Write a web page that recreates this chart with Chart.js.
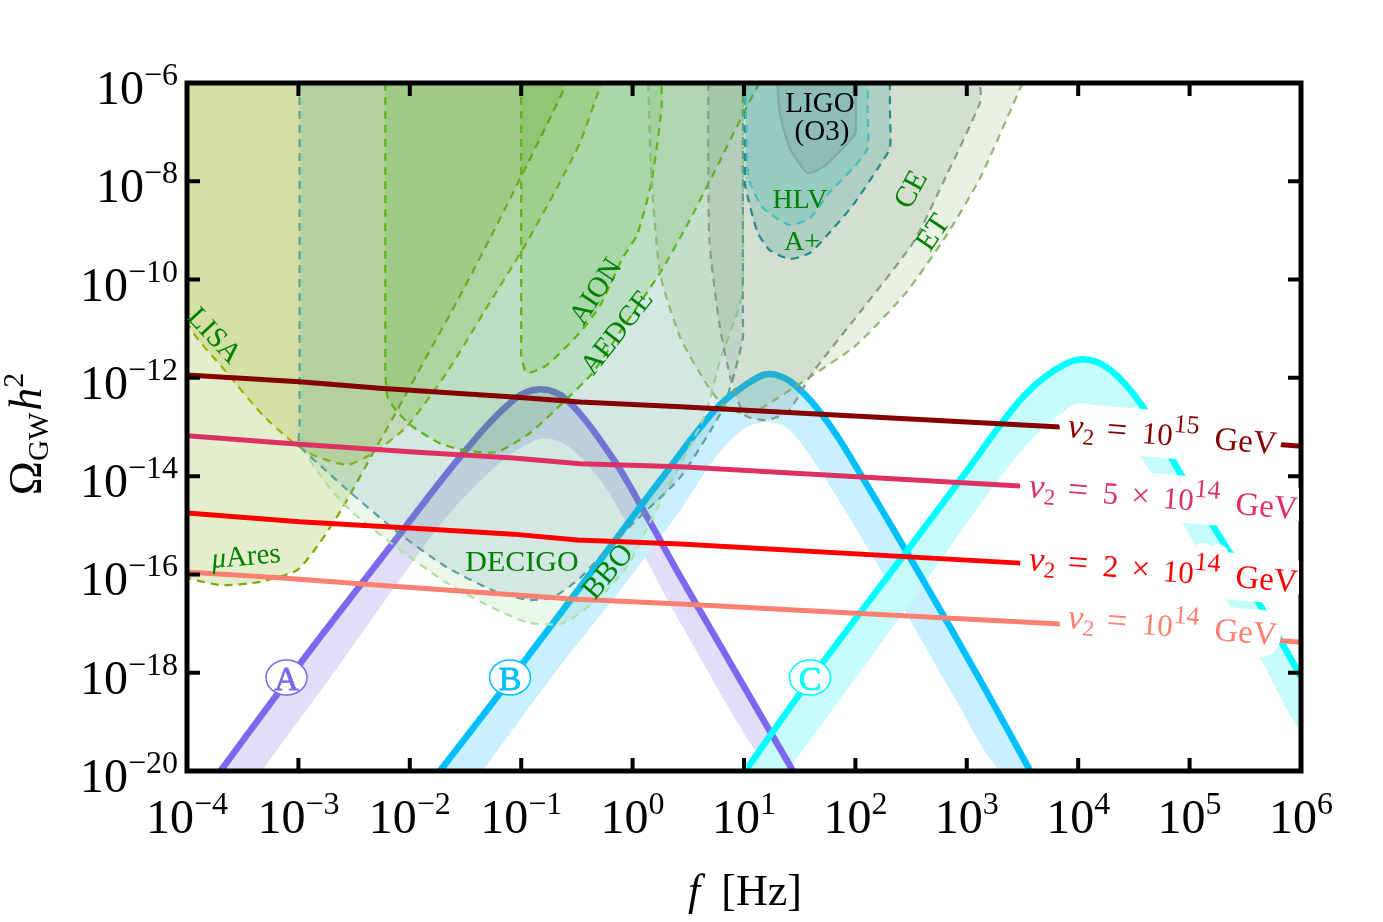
<!DOCTYPE html>
<html lang="en">

<head>
    <meta charset="UTF-8">
    <title>Gravitational wave spectra</title>
    <script src="https://cdn.jsdelivr.net/npm/chart.js"></script>
    <style>
        html, body { margin: 0; padding: 0; background: #fff; }
        canvas { display: block; }
    </style>
</head>

<body>
    <canvas id="gwChart" width="1383" height="922"></canvas>

    <script>
        // all values are log10(f / Hz) and log10(Omega h^2)
        const xTickExp = [-4, -3, -2, -1, 0, 1, 2, 3, 4, 5, 6];
        const yTickExp = [-6, -8, -10, -12, -14, -16, -18, -20];

        const aTopF = [-3.70, -2.96, -2.15, -1.52, -1.07, -0.83, -0.59, -0.18, 0.13, 0.43, 1.44];
        const aTopO = [-20, -17.74, -15.36, -13.53, -12.45, -12.23, -12.45, -13.63, -14.83, -16.05, -20];
        const aLowF = [-3.33, -2.60, -2.09, -1.67, -1.19, -0.83, -0.59, -0.29, -0.02, 0.43, 1.23];
        const aLowO = [-20, -17.74, -16.11, -14.83, -13.73, -13.24, -13.37, -14.08, -15.10, -16.99, -20];

        const bTopF = [-1.73, -1.10, -0.29, 0.25, 0.74, 1.01, 1.23, 1.46, 1.77, 2.13, 2.58, 3.12, 3.57];
        const bTopO = [-20, -18.15, -15.71, -14.08, -12.65, -12.15, -11.92, -12.15, -12.96, -14.28, -16.01, -18.15, -20];
        const bLowF = [-1.35, -0.61, -0.11, 0.43, 0.74, 1.01, 1.23, 1.41, 1.68, 2.04, 2.49, 2.85, 3.30];
        const bLowO = [-20, -17.74, -16.32, -14.69, -13.63, -13.02, -12.90, -13.06, -13.88, -15.20, -16.93, -18.35, -20];

        const cTopF = [1.01, 1.59, 2.40, 2.94, 3.48, 3.79, 4.04, 4.29, 4.58, 4.91, 5.36, 5.61, 5.84, 6.00];
        const cTopO = [-20, -18.15, -15.71, -14.08, -12.45, -11.84, -11.62, -11.84, -12.59, -13.92, -15.56, -16.54, -17.44, -18.09];
        const cLowF = [1.39, 2.04, 2.67, 3.30, 3.66, 3.86, 4.03, 4.29, 4.55, 4.93, 5.34, 5.63, 6.00];
        const cLowO = [-20, -17.99, -16.01, -14.02, -13.06, -12.72, -12.51, -12.76, -13.57, -14.93, -16.56, -17.68, -19.17];

        const v15F = [-4, -2.99, -2.27, -1.07, -0.47, 0.43, 3.84, 6];
        const v15O = [-11.94, -12.08, -12.21, -12.39, -12.49, -12.59, -13.00, -13.39];
        const v5F = [-4, -2.99, -1.97, -1.07, -0.47, 0.43, 3.48];
        const v5O = [-13.18, -13.35, -13.51, -13.63, -13.75, -13.81, -14.20];
        const v2F = [-4, -2.99, -1.97, -1.07, -0.50, 0.43, 3.48];
        const v2O = [-14.75, -14.93, -15.06, -15.18, -15.30, -15.38, -15.77];
        const v1F = [-4, -3.17, -2.27, -1.52, -0.54, 0.43, 3.84, 6];
        const v1O = [-15.95, -16.07, -16.22, -16.34, -16.50, -16.60, -17.01, -17.38];

        const muAresF = [-4, -4, -3.97, -3.68, -3.34, -3.01, -2.81, -2.60, -2.33, -2.11, -1.94, -1.58, -1.25, -0.98, -0.77, -0.59];
        const muAresO = [-6, -16.01, -16.09, -16.22, -16.15, -15.91, -15.36, -14.63, -13.53, -12.65, -11.94, -10.46, -9.03, -7.81, -6.85, -6];
        const lisaF = [-4, -4, -3.64, -3.32, -3.05, -2.87, -2.56, -2.33, -2.03, -1.67, -1.28, -0.98, -0.68, -0.47, -0.28];
        const lisaO = [-6, -10.82, -11.90, -12.76, -13.31, -13.57, -13.77, -13.53, -13.00, -11.90, -10.46, -9.36, -8.14, -7.20, -6];
        const bboF = [-2.96, -2.96, -2.96, -2.96, -2.74, -2.51, -2.11, -1.67, -1.22, -0.92, -0.62, -0.32, -0.05, 0.18, 0.65, 0.78, 0.96, 0.99, 0.99, 0.99];
        const bboO = [-6, -10.42, -13.05, -13.43, -14.18, -14.75, -15.46, -16.17, -16.72, -16.99, -16.99, -16.52, -15.85, -14.83, -12.76, -11.68, -10.52, -10.0, -8.38, -6];
        const decigoF = [-2.99, -2.99, -2.99, -2.99, -2.78, -2.54, -2.11, -1.67, -1.22, -0.92, -0.71, -0.47, -0.18, 0.13, 0.43, 0.78, 0.89, 0.99, 0.99, 0.99, 0.99];
        const decigoO = [-6, -10.42, -12.95, -13.37, -13.83, -14.32, -15.14, -15.85, -16.36, -16.52, -16.46, -16.07, -15.36, -14.69, -14.02, -12.76, -12.10, -11.19, -10.8, -8.38, -6];
        const aedgeF = [-2.22, -2.22, -2.22, -2.22, -2.20, -2.11, -1.97, -1.73, -1.52, -1.22, -0.92, -0.62, -0.36, -0.09, 0.25, 0.49, 0.72, 1.08, 1.14];
        const aedgeO = [-6, -9.40, -11.4, -11.84, -12.39, -12.70, -13.00, -13.33, -13.47, -13.51, -13.12, -12.49, -11.90, -10.99, -9.85, -8.89, -7.87, -6.24, -6];
        const aionF = [-1.00, -1.00, -1.00, -1.00, -0.95, -0.77, -0.47, -0.29, -0.09, 0.04, 0.17, 0.26, 0.26];
        const aionO = [-6, -8.79, -11.2, -11.54, -11.90, -11.74, -11.07, -10.52, -9.56, -9.09, -8.01, -6.51, -6];
        const etF = [0.14, 0.17, 0.25, 0.43, 0.67, 0.81, 0.98, 1.16, 1.62, 2.01, 2.46, 2.82, 3.12, 3.50];
        const etO = [-6, -7.97, -9.91, -11.19, -12.15, -12.55, -12.72, -12.61, -11.94, -11.33, -10.25, -9.09, -7.93, -6];
        const ceF = [0.68, 0.68, 0.69, 0.78, 0.89, 1.01, 1.19, 1.39, 1.62, 2.07, 2.52, 2.82, 3.12, 3.12];
        const ceO = [-6, -7.57, -9.24, -10.92, -12.10, -12.76, -12.86, -12.70, -11.88, -10.58, -9.24, -7.87, -6.39, -6];
        const aplusF = [1.01, 1.01, 1.01, 1.01, 1.12, 1.23, 1.41, 1.59, 1.75, 1.98, 2.22, 2.31, 2.31, 2.31];
        const aplusO = [-6, -6.96, -7.7, -8.08, -9.03, -9.40, -9.58, -9.46, -9.09, -8.48, -7.67, -7.32, -6.55, -6];
        const hlvF = [1.01, 1.02, 1.04, 1.17, 1.41, 1.59, 1.77, 1.98, 2.11, 2.11, 2.11];
        const hlvO = [-6, -6.96, -7.93, -8.54, -8.89, -8.75, -8.22, -7.73, -7.32, -6.55, -6];
        const o3F = [1.30, 1.32, 1.41, 1.57, 1.71, 1.89, 2.00, 2.00];
        const o3O = [-6, -6.59, -7.32, -7.83, -7.71, -7.32, -7.02, -6];

        function pts(fs, os) {
            return fs.map(function(f, i) { return { x: Math.pow(10, f), y: Math.pow(10, os[i]) }; });
        }

        function band(topF, topO, lowF, lowO, color) {
            return {
                data: pts(topF.concat(lowF.slice().reverse()), topO.concat(lowO.slice().reverse())),
                showLine: true, pointRadius: 0, borderWidth: 0, borderColor: 'transparent',
                backgroundColor: color, fill: 'shape', tension: 0.3
            };
        }

        function curve(fs, os, color, width, tension) {
            return {
                data: pts(fs, os),
                showLine: true, pointRadius: 0, borderWidth: width, borderColor: color,
                fill: false, tension: tension
            };
        }

        function region(fs, os, fillColor, lineColor, dash) {
            return {
                data: pts(fs, os),
                showLine: true, pointRadius: 0, borderWidth: 2.2, borderColor: lineColor, borderDash: dash,
                backgroundColor: fillColor, fill: 'shape', tension: 0.2
            };
        }

        const dash = [8, 6];

        // listed bottom to top, reversed below because chart.js paints the first dataset last
        const layers = [
            band(aTopF, aTopO, aLowF, aLowO, 'rgb(226,222,247)'),
            band(bTopF, bTopO, bLowF, bLowO, 'rgb(200,240,255)'),
            band(cTopF, cTopO, cLowF, cLowO, 'rgb(198,252,252)'),
            curve(aTopF, aTopO, '#7b68ee', 6.5, 0.35),
            curve(bTopF, bTopO, '#00bfff', 6.5, 0.35),
            curve(cTopF, cTopO, '#00ffff', 6.5, 0.35),
            region(muAresF, muAresO, 'rgba(135,185,35,0.23)', '#7fa800', dash),
            region(lisaF, lisaO, 'rgba(160,175,20,0.22)', '#a0b000', dash),
            region(bboF, bboO, 'rgba(100,190,100,0.12)', '#b0e0a0', dash),
            region(decigoF, decigoO, 'rgba(60,140,160,0.14)', '#5f9ea0', dash),
            region(aedgeF, aedgeO, 'rgba(40,170,0,0.14)', '#5cb50f', dash),
            region(aionF, aionO, 'rgba(50,160,0,0.13)', '#5cb50f', dash),
            region(etF, etO, 'rgba(120,170,90,0.17)', '#90b870', dash),
            region(ceF, ceO, 'rgba(110,130,110,0.17)', '#8a9a88', dash),
            region(aplusF, aplusO, 'rgba(30,140,140,0.2)', '#1f8a8f', dash),
            region(hlvF, hlvO, 'rgba(50,190,180,0.2)', '#40c0b8', dash),
            region(o3F, o3O, 'rgba(100,130,130,0.2)', '#80aaa5', []),
            curve(v15F, v15O, '#850000', 5, 0),
            curve(v5F, v5O, '#de3163', 5, 0),
            curve(v2F, v2O, '#ff0000', 5, 0),
            curve(v1F, v1O, '#fa8072', 5, 0)
        ];

        const serif = "'Liberation Serif'";

        function runsWidth(ctx, runs) {
            let w = 0;
            runs.forEach(function(r) {
                ctx.font = (r.st || '') + ' ' + r.s + 'px ' + serif;
                r.w = ctx.measureText(r.t).width + (r.gap || 0);
                w += r.w;
            });
            return w;
        }

        // runs of text that change font or baseline along the way
        function drawRuns(ctx, runs, x, y, align, halo) {
            const w = runsWidth(ctx, runs);
            let px = x;
            if (align === 'center') px = x - w / 2;
            if (align === 'right') px = x - w;
            const start = px;
            ctx.textAlign = 'left';
            ctx.textBaseline = 'alphabetic';
            if (halo) {
                ctx.strokeStyle = '#fff';
                ctx.lineWidth = halo;
                ctx.lineJoin = 'round';
                runs.forEach(function(r) {
                    ctx.font = (r.st || '') + ' ' + r.s + 'px ' + serif;
                    ctx.strokeText(r.t, px, y + (r.dy || 0));
                    px += r.w;
                });
                px = start;
            }
            runs.forEach(function(r) {
                ctx.font = (r.st || '') + ' ' + r.s + 'px ' + serif;
                ctx.fillText(r.t, px, y + (r.dy || 0));
                px += r.w;
            });
        }

        function rotated(ctx, x, y, deg, fn) {
            ctx.save();
            ctx.translate(x, y);
            ctx.rotate(deg * Math.PI / 180);
            fn();
            ctx.restore();
        }

        function expLabel(e) {
            return [{ t: '10', s: 48 }, { t: (e < 0 ? '\u2212' : '') + Math.abs(e), s: 32, dy: -19 }];
        }

        function v2Label(factor, power) {
            let runs = [
                { t: 'v', s: 35, st: 'italic' }, { t: '2', s: 23, dy: 6, gap: 12 },
                { t: '=', s: 36, gap: 15 }
            ];
            if (factor) {
                runs = runs.concat([{ t: factor, s: 31, gap: 13 }, { t: '\u00d7', s: 33, gap: 13 }]);
            }
            return runs.concat([
                { t: '10', s: 31 }, { t: power, s: 26, dy: -14, gap: 16 }, { t: 'GeV', s: 33 }
            ]);
        }

        // the white patch behind a scale label hides curves and even the axis ticks
        function scaleLabel(ctx, runs, x, y, color) {
            const w = runsWidth(ctx, runs);
            ctx.save();
            ctx.beginPath();
            ctx.rect(0, 0, 1299, 922);
            ctx.clip();
            rotated(ctx, x, y, 4.7, function() {
                ctx.beginPath();
                ctx.roundRect(-8, -34, w + 12, 47, 20);
                ctx.fillStyle = '#fff';
                ctx.fill();
                ctx.fillStyle = color;
                drawRuns(ctx, runs, 0, 0, 'left', 20);
            });
            ctx.restore();
        }

        const regionLabels = [
            { t: 'LISA', x: 215, y: 335, r: 47, s: 29 },
            { t: 'AION', x: 595, y: 291, r: -57, s: 29 },
            { t: 'AEDGE', x: 616, y: 332, r: -52, s: 29 },
            { t: 'BBO', x: 607, y: 571, r: -50, s: 30 },
            { t: 'CE', x: 910, y: 189, r: -62, s: 30 },
            { t: 'ET', x: 932, y: 232, r: -56, s: 30 },
            { t: 'HLV', x: 800, y: 199, r: 0, s: 28 },
            { t: 'A+', x: 802, y: 241, r: 0, s: 28 },
            { t: 'DECIGO', x: 522, y: 561, r: 0, s: 30 }
        ];

        const gwLabels = [
            { t: 'A', x: 286.5, y: 677.5, c: '#7b68ee' },
            { t: 'B', x: 510, y: 677.5, c: '#00bfff' },
            { t: 'C', x: 810, y: 677.5, c: '#00ffff' }
        ];

        const framePlugin = {
            id: 'frame',
            afterDraw: function(chart) {
                const ctx = chart.ctx;
                const a = chart.chartArea;
                const sx = chart.scales.x;
                const sy = chart.scales.y;
                ctx.save();
                ctx.fillStyle = '#000';
                ctx.strokeStyle = '#000';

                // inward ticks on all four sides, then the frame
                ctx.lineWidth = 4;
                xTickExp.forEach(function(e) {
                    const px = sx.getPixelForValue(Math.pow(10, e));
                    ctx.beginPath();
                    ctx.moveTo(px, a.top); ctx.lineTo(px, a.top + 13);
                    ctx.moveTo(px, a.bottom); ctx.lineTo(px, a.bottom - 13);
                    ctx.stroke();
                    drawRuns(ctx, expLabel(e), px, 833, 'center');
                });
                yTickExp.forEach(function(e) {
                    const py = sy.getPixelForValue(Math.pow(10, e));
                    ctx.beginPath();
                    ctx.moveTo(a.left, py); ctx.lineTo(a.left + 13, py);
                    ctx.moveTo(a.right, py); ctx.lineTo(a.right - 13, py);
                    ctx.stroke();
                    drawRuns(ctx, expLabel(e), 178, py + 21, 'right');
                });
                ctx.lineWidth = 5;
                ctx.strokeRect(a.left, a.top, a.right - a.left, a.bottom - a.top);

                // axis titles
                drawRuns(ctx, [{ t: 'f', s: 44, st: 'italic', gap: 21 }, { t: '[Hz]', s: 44 }], 745, 905, 'center');
                rotated(ctx, 41, 434, -90, function() {
                    drawRuns(ctx, [
                        { t: '\u03a9', s: 46 }, { t: 'GW', s: 29, dy: 7, gap: 2 },
                        { t: 'h', s: 46, st: 'italic' }, { t: '2', s: 30, dy: -18 }
                    ], 0, 0, 'center');
                });

                // detector names
                ctx.fillStyle = '#008000';
                regionLabels.forEach(function(l) {
                    rotated(ctx, l.x, l.y, l.r, function() {
                        drawRuns(ctx, [{ t: l.t, s: l.s }], 0, l.s * 0.33, 'center');
                    });
                });
                rotated(ctx, 246, 556, -5, function() {
                    drawRuns(ctx, [{ t: '\u03bc', s: 29, st: 'italic' }, { t: 'Ares', s: 29 }], 0, 9, 'center');
                });
                ctx.fillStyle = '#000';
                drawRuns(ctx, [{ t: 'LIGO', s: 29 }], 820, 112, 'center');
                drawRuns(ctx, [{ t: '(O3)', s: 29 }], 822, 140, 'center');

                // circled benchmark letters
                gwLabels.forEach(function(l) {
                    ctx.beginPath();
                    ctx.ellipse(l.x, l.y, 20.5, 17.5, 0, 0, 2 * Math.PI);
                    ctx.fillStyle = '#fff';
                    ctx.fill();
                    ctx.lineWidth = 1.5;
                    ctx.strokeStyle = l.c;
                    ctx.stroke();
                    ctx.fillStyle = l.c;
                    ctx.lineWidth = 0.8;
                    ctx.font = '34px ' + serif;
                    ctx.textAlign = 'center';
                    ctx.textBaseline = 'alphabetic';
                    ctx.strokeText(l.t, l.x, l.y + 12);
                    ctx.fillText(l.t, l.x, l.y + 12);
                });

                scaleLabel(ctx, v2Label('', '15'), 1067, 437, '#850000');
                scaleLabel(ctx, v2Label('5', '14'), 1028, 497, '#de3163');
                scaleLabel(ctx, v2Label('2', '14'), 1028, 570, '#ff0000');
                scaleLabel(ctx, v2Label('', '14'), 1067, 628, '#fa8072');
                ctx.restore();
            }
        };

        new Chart(document.getElementById('gwChart').getContext('2d'), {
            type: 'scatter',
            data: { datasets: layers.slice().reverse() },
            plugins: [framePlugin],
            options: {
                responsive: false,
                animation: false,
                layout: { padding: { left: 187, top: 83, right: 82, bottom: 151 } },
                plugins: { legend: { display: false }, tooltip: { enabled: false } },
                scales: {
                    x: {
                        type: 'logarithmic', min: 1e-4, max: 1e6,
                        ticks: { display: false }, grid: { display: false, drawTicks: false }, border: { display: false }
                    },
                    y: {
                        type: 'logarithmic', min: 1e-20, max: 1e-6,
                        ticks: { display: false }, grid: { display: false, drawTicks: false }, border: { display: false }
                    }
                }
            }
        });
    </script>
</body>

</html>
